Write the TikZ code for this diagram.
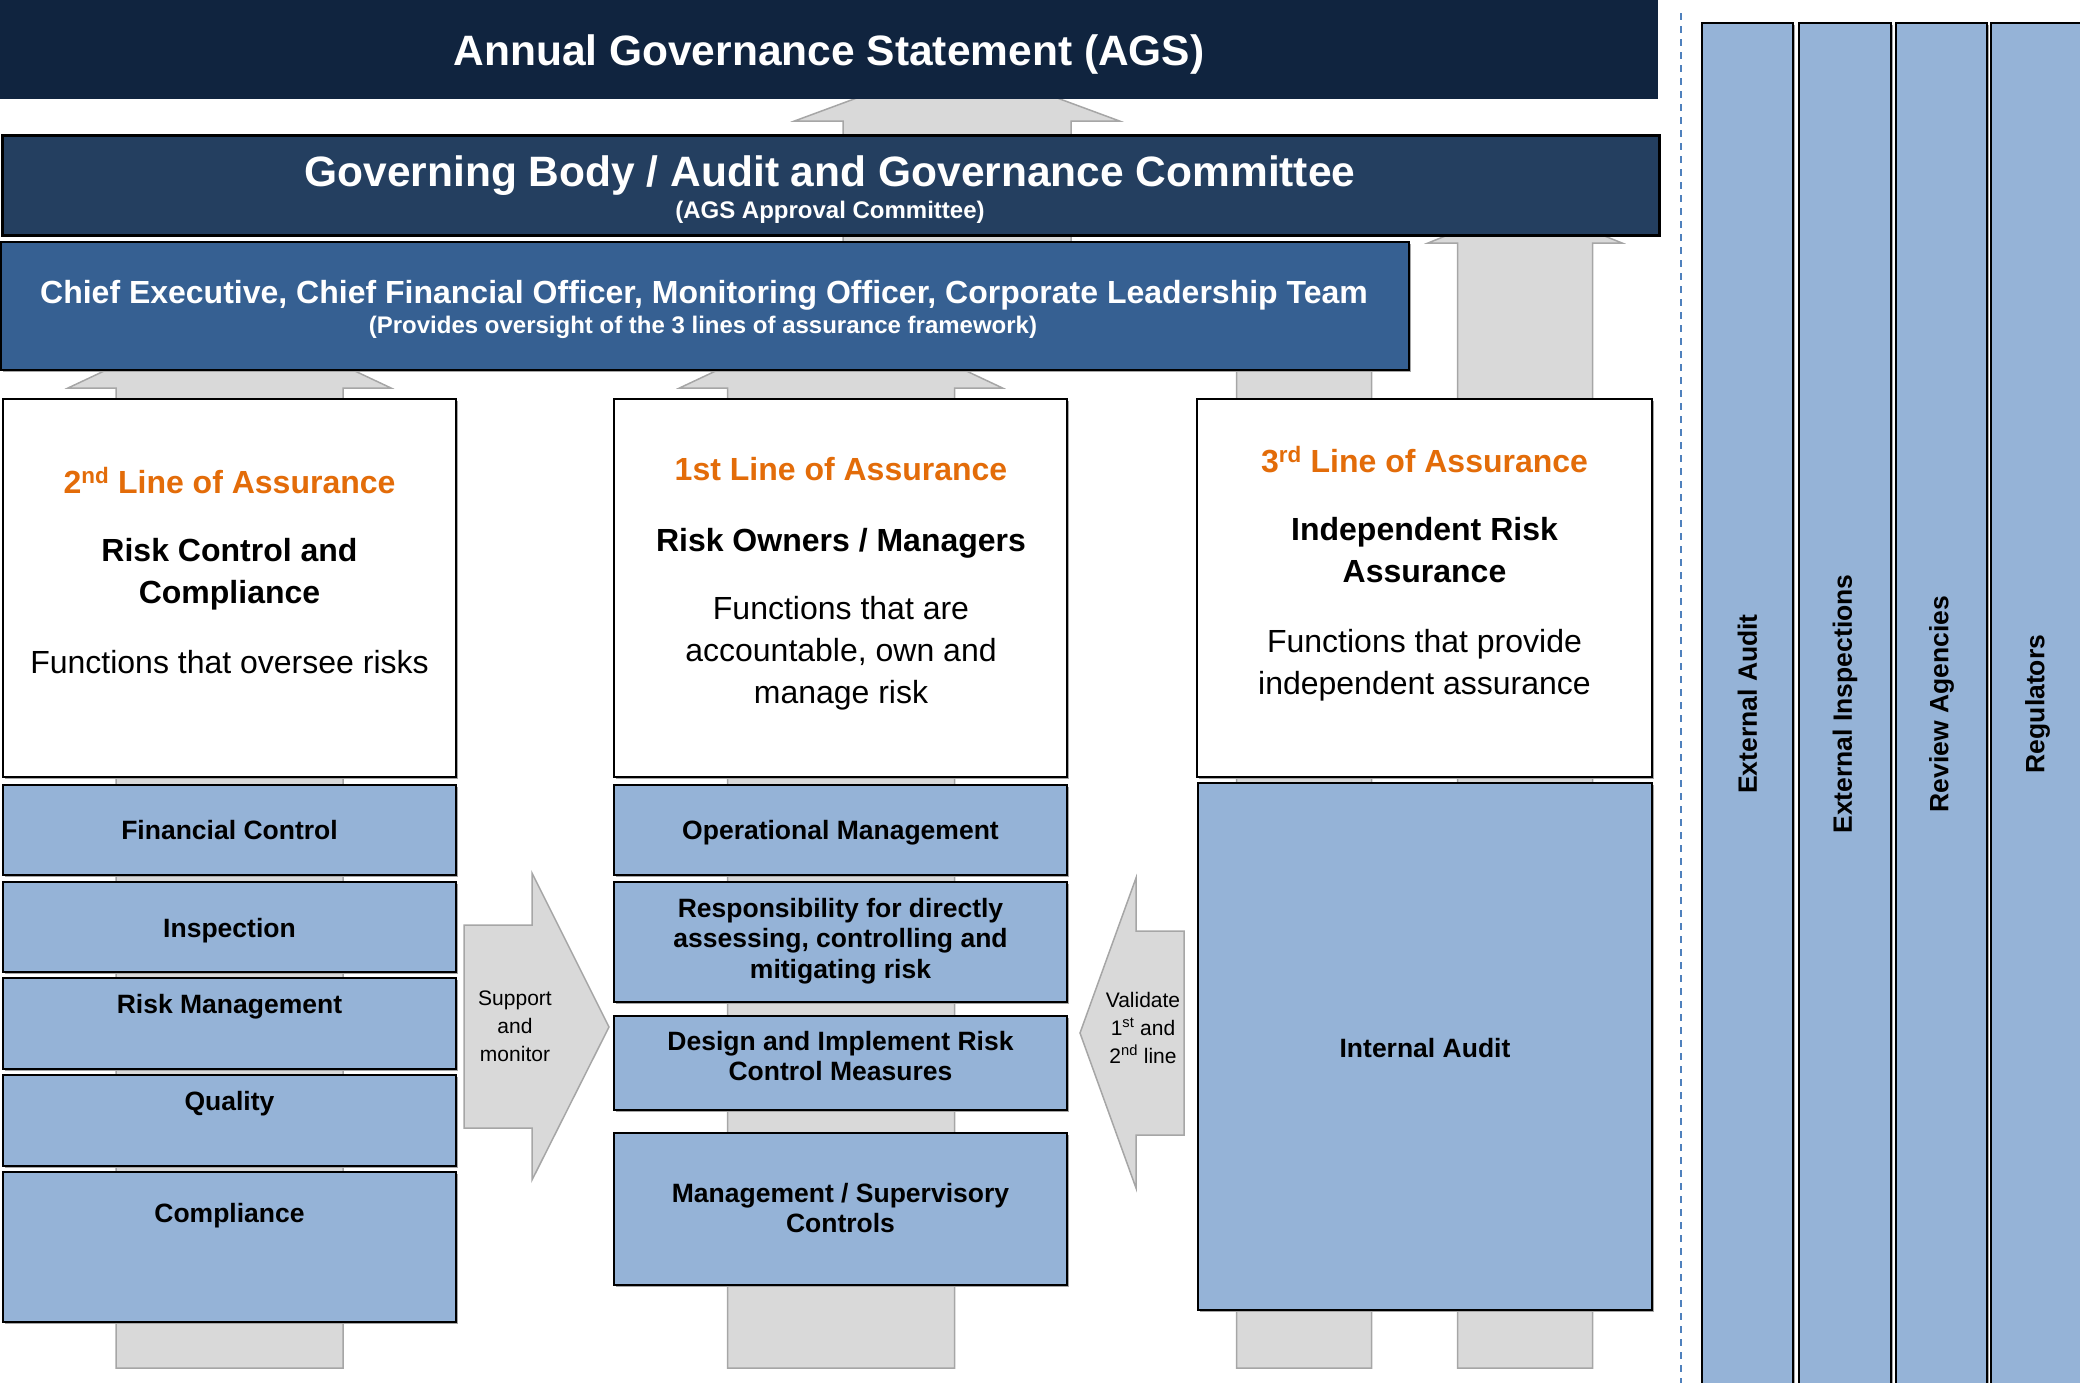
\documentclass[tikz,border=0pt]{standalone}
\usepackage{fontspec}
\setmainfont{Liberation Sans}
\usetikzlibrary{fit,shadows}

\definecolor{agsnavy}{HTML}{10243F}
\definecolor{gbnavy}{HTML}{243F60}
\definecolor{ceblue}{HTML}{366092}
\definecolor{boxblue}{HTML}{95B3D7}
\definecolor{lineorange}{HTML}{E36C09}
\definecolor{arrowgrey}{HTML}{D9D9D9}
\definecolor{arrowedge}{HTML}{A6A6A6}
\definecolor{dashblue}{HTML}{4F81BD}

% block arrow pointing up: centre x, half shaft, half head, foot y, head base y, tip y
\newcommand{\uparrowblock}[6]{%
  \draw[blockarrow] ({#1-#2},#4) -- ({#1-#2},#5) -- ({#1-#3},#5) -- (#1,#6)
    -- ({#1+#3},#5) -- ({#1+#2},#5) -- ({#1+#2},#4) -- cycle;}

\begin{document}
\begin{tikzpicture}[x=1pt,y=-1pt,
  blockarrow/.style={fill=arrowgrey,draw=arrowedge,line width=1.5pt},
  bar/.style={inner sep=0pt},
  boxshadow/.style={drop shadow={shadow xshift=1.5pt,shadow yshift=-1.5pt,fill=black!35,opacity=1}},
  linebox/.style={draw=black,fill=white,line width=2pt,inner sep=0pt,boxshadow},
  bluebox/.style={draw=black,fill=boxblue,line width=2.5pt,inner sep=0pt,boxshadow},
  sidecol/.style={draw=black,fill=boxblue,line width=2.5pt,inner sep=0pt,boxshadow},
  title/.style={text=white,font=\fontsize{42.5}{51}\selectfont\bfseries},
  cetitle/.style={text=white,font=\fontsize{32}{38}\selectfont\bfseries},
  subtitle/.style={text=white,font=\fontsize{24}{29}\selectfont\bfseries},
  linehead/.style={text=lineorange,font=\fontsize{32}{42}\selectfont\bfseries},
  linename/.style={align=center,font=\fontsize{32}{42}\selectfont\bfseries},
  linedesc/.style={align=center,font=\fontsize{32}{42}\selectfont},
  boxtext/.style={align=center,font=\fontsize{26.5}{30.5}\selectfont\bfseries},
  arrowtext/.style={align=center,font=\fontsize{21}{28}\selectfont},
  coltext/.style={rotate=90,font=\fontsize{26.5}{32}\selectfont\bfseries},
  divider/.style={draw=dashblue,line width=2pt,dash pattern=on 7pt off 6pt}]

\useasboundingbox (0,0) rectangle (2080,1382);

%grey arrows behind the boxes
\uparrowblock{957}{114}{162.5}{300}{121}{61} %committee to AGS
\uparrowblock{229.5}{113.5}{161.5}{1368}{388}{312} %2nd line
\uparrowblock{841}{113.5}{161.5}{1368}{388}{312} %1st line
\uparrowblock{1304}{67.5}{97}{1368}{340}{300} %3rd line to CLT
\uparrowblock{1525}{67.5}{97}{1368}{243}{204} %3rd line to committee

%side arrows
\draw[blockarrow] (464,925) -- (532,925) -- (532,873) -- (609,1027) -- (532,1180)
  -- (532,1128) -- (464,1128) -- cycle; %support
\draw[blockarrow] (1184,931) -- (1136,931) -- (1136,878) -- (1080,1033) -- (1136,1188)
  -- (1136,1135) -- (1184,1135) -- cycle; %validate

%top bars
\node[bar,fill=agsnavy,fit={(-2,-2)(1658,99)}] (ags) {};
\node[bar,fill=gbnavy,draw=black,line width=3pt,boxshadow,fit={(2,135)(1659,235)}] (gb) {};
\node[bar,fill=ceblue,draw=black,line width=2.5pt,boxshadow,fit={(1,242)(1409,370)}] (clt) {};

\node[title,anchor=base] (agstxt) at (829,65) {Annual Governance Statement (AGS)};
\node[title,anchor=base] (gbtxt) at (830,186) {Governing Body / Audit and Governance Committee};
\node[subtitle,anchor=base] (gbsub) at (830,218) {(AGS Approval Committee)};
\node[cetitle,anchor=base] (clttxt) at (704,303) {Chief Executive, Chief Financial Officer, Monitoring Officer, Corporate Leadership Team};
\node[subtitle,anchor=base] (cltsub) at (703,333) {(Provides oversight of the 3 lines of assurance framework)};

%lines of assurance
\node[linebox,fit={(3,399)(456,777)}] (second) {};
\node[linebox,fit={(614,399)(1067,777)}] (first) {};
\node[linebox,fit={(1197,399)(1652,777)}] (third) {};

\node[linehead,anchor=base] (secondhd) at (229.5,493) {2\textsuperscript{nd} Line of Assurance};
\node[linename] (secondnm) at (229.5,574) {Risk Control and\\Compliance};
\node[linedesc,anchor=base] (seconddsc) at (229.5,673) {Functions that oversee risks};

\node[linehead,anchor=base] (firsthd) at (841,480) {1st Line of Assurance};
\node[linename,anchor=base] (firstnm) at (841,551) {Risk Owners / Managers};
\node[linedesc] (firstdsc) at (841,653) {Functions that are\\accountable, own and\\manage risk};

\node[linehead,anchor=base] (thirdhd) at (1424.5,472) {3\textsuperscript{rd} Line of Assurance};
\node[linename] (thirdnm) at (1424.5,550) {Independent Risk\\Assurance};
\node[linedesc] (thirddsc) at (1424.5,665) {Functions that provide\\independent assurance};

%2nd line functions
\node[bluebox,fit={(3,785)(456,875)}] (fin) {};
\node[bluebox,fit={(3,882)(456,972)}] (insp) {};
\node[bluebox,fit={(3,978)(456,1069)}] (riskm) {};
\node[bluebox,fit={(3,1075)(456,1166)}] (qual) {};
\node[bluebox,fit={(3,1172)(456,1322)}] (comp) {};
\node[boxtext,anchor=base] (fintxt) at (229.5,839) {Financial Control};
\node[boxtext,anchor=base] (insptxt) at (229.5,937) {Inspection};
\node[boxtext,anchor=base] (riskmtxt) at (229.5,1013) {Risk Management};
\node[boxtext,anchor=base] (qualtxt) at (229.5,1110) {Quality};
\node[boxtext,anchor=base] (comptxt) at (229.5,1222) {Compliance};

%1st line functions
\node[bluebox,fit={(614,785)(1067,875)}] (opm) {};
\node[bluebox,fit={(614,882)(1067,1002)}] (resp) {};
\node[bluebox,fit={(614,1016)(1067,1110)}] (design) {};
\node[bluebox,fit={(614,1133)(1067,1285)}] (msc) {};
\node[boxtext,anchor=base] (opmtxt) at (840.5,839) {Operational Management};
\node[boxtext] (resptxt) at (840.5,941) {Responsibility for directly\\assessing, controlling and\\mitigating risk};
\node[boxtext] (designtxt) at (840.5,1056) {Design and Implement Risk\\Control Measures};
\node[boxtext] (msctxt) at (840.5,1208) {Management / Supervisory\\Controls};

%3rd line
\node[bluebox,fit={(1198,783)(1652,1310)}] (ia) {};
\node[boxtext,anchor=base] (iatxt) at (1425,1057) {Internal Audit};

%arrow labels
\node[arrowtext] (supporttxt) at (515,1026) {Support\\and\\monitor};
\node[arrowtext] (validatetxt) at (1143,1028) {Validate\\1\textsuperscript{st} and\\2\textsuperscript{nd} line};

%external assurance
\draw[divider] (1681,13) -- (1681,1395);
\foreach \a/\b/\nm/\txt in {1702/1793/extaudit/External Audit,1799/1891/extinsp/External Inspections,
    1896/1987/review/Review Agencies,1991/2084/regs/Regulators}{
  \node[sidecol,fit={(\a,23)(\b,1400)}] (\nm) {};
  \node[coltext] (\nm-txt) at ({(\a+\b)/2},704) {\txt};
}
\end{tikzpicture}
\end{document}
